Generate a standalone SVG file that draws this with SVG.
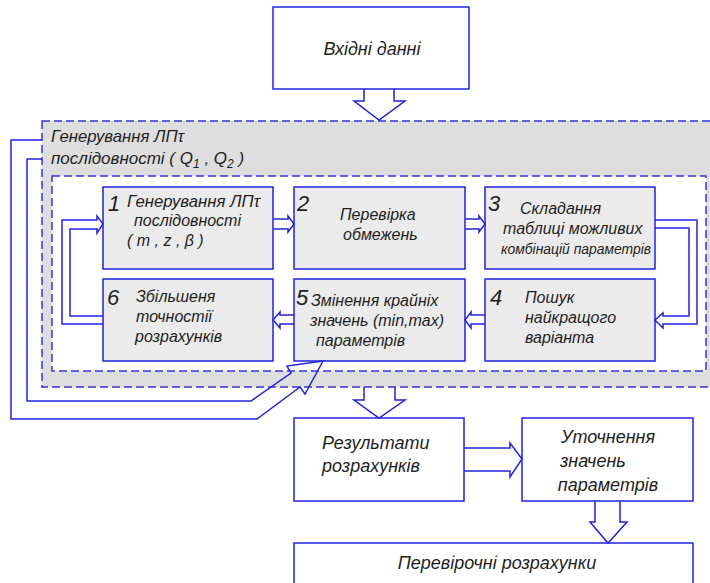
<svg xmlns="http://www.w3.org/2000/svg" width="710" height="583" viewBox="0 0 710 583">
<style>
.box{fill:#ffffff;stroke:#2222dd;stroke-width:1.5}
.gbox{fill:#ebebeb;stroke:#2222dd;stroke-width:1.5}
.dash{stroke:#3333dd;stroke-width:1.5;stroke-dasharray:8,4}
.ln{fill:none;stroke:#2222dd;stroke-width:1.5;stroke-linejoin:miter}
text{font-family:"Liberation Sans",Arial,sans-serif;font-style:italic;fill:#1e1e1e;font-size:16px}
.num{font-size:22px}
.big{font-size:18px}
.ttl{font-size:17px}
.sm{font-size:14px}
</style>
<rect width="710" height="583" fill="#ffffff"/>
<g id="outer-group">
<rect x="42" y="121" width="680" height="266" fill="#dedede" class="dash"/>
<text class="ttl" x="51" y="142" textLength="133" lengthAdjust="spacingAndGlyphs">Генерування ЛПτ</text>
<text class="ttl" x="51" y="164">послідовності ( Q<tspan font-size="12" dy="4">1</tspan><tspan dy="-4"> , Q</tspan><tspan font-size="12" dy="4">2</tspan><tspan dy="-4"> )</tspan></text>
</g>
<g id="inner-group">
<rect x="52" y="176" width="654" height="195" fill="#ffffff" class="dash"/>
</g>
<g id="input">
<rect class="box" x="273" y="7" width="196" height="82"/>
<text class="big" x="372" y="55" text-anchor="middle">Вхідні данні</text>
</g>
<g id="n1">
<rect class="gbox" x="103" y="187" width="170" height="82"/>
<text class="num" x="108" y="211">1</text>
<text x="127" y="207" textLength="133" lengthAdjust="spacingAndGlyphs">Генерування ЛПτ</text>
<text x="134" y="226">послідовності</text>
<text x="127" y="246">( m , z , β )</text>
</g>
<g id="n2">
<rect class="gbox" x="294" y="187" width="171" height="82"/>
<text class="num" x="297" y="211">2</text>
<text x="340" y="220">Перевірка</text>
<text x="343" y="240">обмежень</text>
</g>
<g id="n3">
<rect class="gbox" x="485" y="187" width="170" height="82"/>
<text class="num" x="488" y="211">3</text>
<text x="520" y="214">Складання</text>
<text x="503" y="234">таблиці можливих</text>
<text class="sm" x="501" y="254" textLength="150" lengthAdjust="spacingAndGlyphs">комбінацій параметрів</text>
</g>
<g id="n4">
<rect class="gbox" x="485" y="279" width="170" height="82"/>
<text class="num" x="490" y="305">4</text>
<text x="525" y="303">Пошук</text>
<text x="525" y="323">найкращого</text>
<text x="525" y="343">варіанта</text>
</g>
<g id="n5">
<rect class="gbox" x="294" y="279" width="171" height="82"/>
<text class="num" x="296" y="305">5</text>
<text x="311" y="306">Змінення крайніх</text>
<text x="310" y="326">значень (min,max)</text>
<text x="316" y="346">параметрів</text>
</g>
<g id="n6">
<rect class="gbox" x="103" y="279" width="170" height="82"/>
<text class="num" x="107" y="305">6</text>
<text x="136" y="302">Збільшеня</text>
<text x="136" y="322">точностії</text>
<text x="135" y="342">розрахунків</text>
</g>
<g id="results">
<rect class="box" x="294" y="418" width="170" height="83"/>
<text class="big" x="322" y="449">Результати</text>
<text class="big" x="322" y="472">розрахунків</text>
</g>
<g id="refine">
<rect class="box" x="522" y="418" width="171" height="83"/>
<text class="big" x="608" y="443" text-anchor="middle">Уточнення</text>
<text class="big" x="560" y="467">значень</text>
<text class="big" x="608" y="491" text-anchor="middle">параметрів</text>
</g>
<g id="check">
<rect class="box" x="294" y="543" width="399" height="50"/>
<text class="big" x="497" y="569" text-anchor="middle">Перевірочні розрахунки</text>
</g>
<g id="connectors">
<path class="ln" d="M364,89 V101 H354 L379,120 L405,101 H394 V89"/>
<path class="ln" d="M364,387 V400 H354 L379,418 L405,400 H395 V387"/>
<path class="ln" d="M464,448 H510 V443 L522,459 L510,477 V471 H464"/>
<path class="ln" d="M595,501 V522 H590 L608,543 L627,522 H620 V501"/>
<path class="ln" d="M273,219 H288 V216 L294,224 L288,232 V229 H273"/>
<path class="ln" d="M465,219 H479 V216 L485,224 L479,232 V229 H465"/>
<path class="ln" d="M655,220 H697 V324 H663 V328 L655,320 L663,313 V316 H689 V228 H655"/>
<path class="ln" d="M485,315 H471 V312 L465,320 L471,328 V324 H485"/>
<path class="ln" d="M294,315 H280 V312 L273,320 L280,328 V324 H294"/>
<path class="ln" d="M103,324 H62 V220 H97 V216 L103,224 L97,233 V229 H70 V316 H103"/>
<path class="ln" d="M42,159 H27 V401 H251 L291,373 L287,366 L323,361 L305,394 L300,387 L257,419 H11 V140 H42"/>
</g>
</svg>
